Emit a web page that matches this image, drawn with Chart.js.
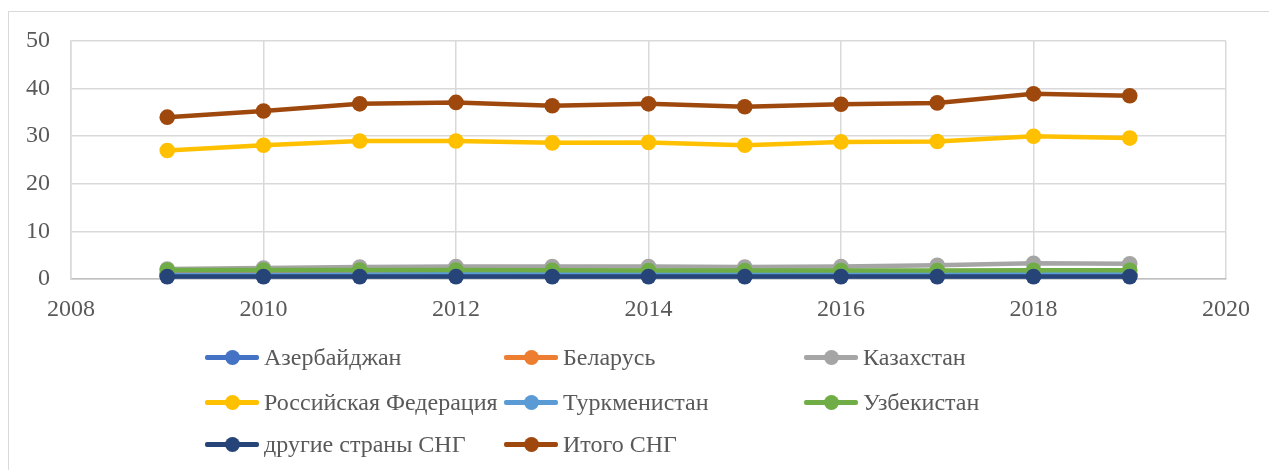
<!DOCTYPE html>
<html>
<head>
<meta charset="utf-8">
<script src="https://cdn.jsdelivr.net/npm/chart.js@4"></script>
<style>
  html, body { margin: 0; padding: 0; background: #fff; }
  #wrap { position: relative; width: 1269px; height: 470px; overflow: hidden; }
  #frame { position: absolute; left: 8px; top: 11px; width: 1300px; height: 500px; border: 1.5px solid #d9d9d9; box-sizing: border-box; }
  #c { position: absolute; left: 0; top: 0; }
  #legend { position: absolute; left: 0; top: 0; width: 1269px; height: 470px; pointer-events: none; }
  .li { position: absolute; height: 30px; font-family: "Liberation Serif", "Times New Roman", serif; font-size: 24px; color: #595959; white-space: nowrap; }
  .li .ln { position: absolute; left: 0; top: 13px; width: 54px; height: 4.5px; border-radius: 2px; }
  .li .dot { position: absolute; left: 19.5px; top: 7.75px; width: 15px; height: 15px; border-radius: 50%; }
  .li .tx { position: absolute; left: 59px; top: 0; line-height: 30px; }
</style>
</head>
<body>
<div id="wrap">
  <div id="frame"></div>
  <canvas id="c" width="1269" height="470"></canvas>
  <div id="legend"></div>
</div>
<script>
const years = [2009, 2010, 2011, 2012, 2013, 2014, 2015, 2016, 2017, 2018, 2019];
const seriesNames = ["Азербайджан", "Беларусь", "Казахстан", "Российская Федерация", "Туркменистан", "Узбекистан", "другие страны СНГ", "Итого СНГ"];
const azerbaijan   = [0.6, 0.6, 0.6, 0.6, 0.6, 0.6, 0.6, 0.6, 0.6, 0.6, 0.6];
const belarus      = [1.2, 1.2, 1.1, 1.1, 1.0, 1.0, 1.0, 1.0, 1.0, 1.0, 1.0];
const kazakhstan   = [2.1, 2.3, 2.5, 2.6, 2.6, 2.6, 2.5, 2.6, 2.9, 3.3, 3.2];
const russia       = [27.0, 28.1, 29.0, 29.0, 28.6, 28.7, 28.1, 28.8, 28.9, 30.0, 29.6];
const turkmenistan = [0.9, 0.9, 0.95, 1.0, 1.0, 1.05, 1.05, 1.05, 1.05, 1.0, 1.0];
const uzbekistan   = [1.9, 1.9, 1.9, 1.9, 1.85, 1.8, 1.8, 1.8, 1.8, 1.85, 1.85];
const otherCIS     = [0.5, 0.5, 0.5, 0.5, 0.5, 0.5, 0.5, 0.5, 0.5, 0.5, 0.5];
const totalCIS     = [34.0, 35.3, 36.8, 37.1, 36.4, 36.8, 36.2, 36.7, 37.0, 38.9, 38.5];
const xTicks = [2008, 2010, 2012, 2014, 2016, 2018, 2020];
const yTicks = [0, 10, 20, 30, 40, 50];

const seriesValues = [azerbaijan, belarus, kazakhstan, russia, turkmenistan, uzbekistan, otherCIS, totalCIS];
const colors = ["#4472C4", "#ED7D31", "#A5A5A5", "#FFC000", "#5B9BD5", "#70AD47", "#264478", "#9E480E"];

const datasets = seriesNames.map((name, i) => ({
  label: name,
  data: years.map((y, k) => ({ x: y, y: seriesValues[i][k] })),
  borderColor: colors[i],
  backgroundColor: colors[i],
  borderWidth: 4.5,
  pointRadius: 7.8,
  pointHoverRadius: 7.8,
  pointBorderWidth: 0,
  tension: 0,
  clip: false,
  order: seriesNames.length - i
}));

const font = { family: "'Liberation Serif', 'Times New Roman', serif", size: 24 };

const chart = new Chart(document.getElementById('c'), {
  type: 'line',
  data: { datasets },
  options: {
    responsive: false,
    animation: false,
    events: [],
    layout: { padding: { top: 41, right: 43, left: 0, bottom: 0 } },
    plugins: { legend: { display: false }, tooltip: { enabled: false } },
    scales: {
      x: {
        type: 'linear',
        min: 2008, max: 2020,
        afterBuildTicks: s => { s.ticks = xTicks.map(v => ({ value: v })); },
        afterFit: s => { s.height = 191; },
        grid: { color: '#d9d9d9', lineWidth: 1.5, drawTicks: false },
        border: { color: '#bfbfbf', width: 1.5 },
        ticks: { color: '#595959', font, padding: 16, maxRotation: 0, callback: v => String(v) }
      },
      y: {
        min: 0, max: 50,
        afterBuildTicks: s => { s.ticks = yTicks.map(v => ({ value: v })); },
        afterFit: s => { s.width = 71; },
        grid: { color: '#d9d9d9', lineWidth: 1.5, drawTicks: false },
        border: { color: '#d9d9d9', width: 1.5 },
        ticks: { color: '#595959', font, padding: 21, callback: v => String(v) }
      }
    }
  }
});

// HTML legend laid out in three columns, built from the chart's datasets
const legendEl = document.getElementById('legend');
const colX = [205, 504, 804];
const rowY = [357, 402, 444];
chart.data.datasets.forEach((ds, i) => {
  const item = document.createElement('div');
  item.className = 'li';
  item.style.left = colX[i % 3] + 'px';
  item.style.top = (rowY[Math.floor(i / 3)] - 15) + 'px';
  const ln = document.createElement('div'); ln.className = 'ln'; ln.style.background = ds.borderColor;
  const dot = document.createElement('div'); dot.className = 'dot'; dot.style.background = ds.borderColor;
  const tx = document.createElement('span'); tx.className = 'tx'; tx.textContent = ds.label;
  item.appendChild(ln); item.appendChild(dot); item.appendChild(tx);
  legendEl.appendChild(item);
});
</script>
</body>
</html>
